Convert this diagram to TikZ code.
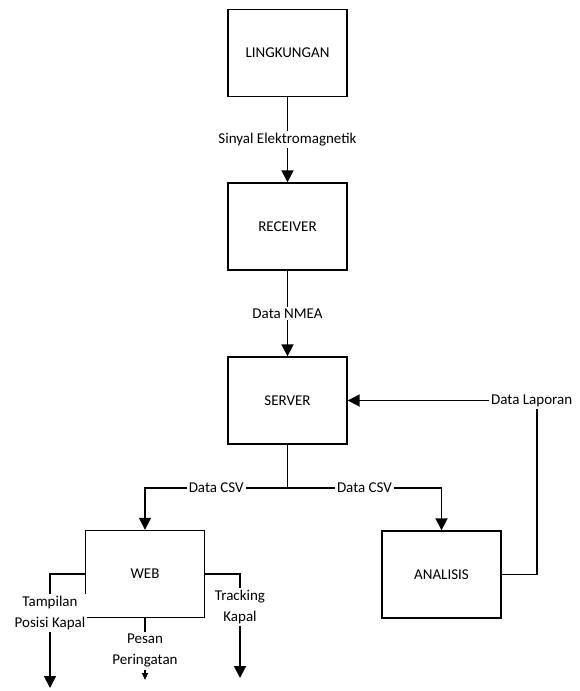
\documentclass[tikz,border=0pt]{standalone}
\usepackage{fontspec}
\setmainfont{Carlito}
\usetikzlibrary{arrows.meta,calc}

\begin{document}
\begin{tikzpicture}[x=1pt,y=-1pt,line width=1.8pt,
    >={Triangle[width=12pt,length=12pt]},
    every node/.style={font=\fontsize{15}{21}\selectfont},
    box/.style={draw,line width=1.4pt,minimum width=119pt,minimum height=87pt},
    lbl/.style={fill=white,inner sep=2pt,align=center}]
    \useasboundingbox (0,0) rectangle (579,691);
    % boxes
    \foreach \name/\x/\y/\txt in {%
        lingkungan/287.5/53/LINGKUNGAN,
        receiver/287.5/226.5/RECEIVER,
        server/287.5/400.5/SERVER,
        web/145/574/WEB,
        analisis/441.5/574.5/ANALISIS}
        \node[box] (\name) at (\x,\y) {\txt};
    % free ends
    \coordinate (split) at ($(server.south)+(0,43)$);
    \coordinate (tampilan) at (50,688);
    \coordinate (pesan) at (145,680);
    \coordinate (tracking) at (240,678);
    % main chain
    \draw[->] (lingkungan) -- node[lbl]{Sinyal Elektromagnetik} (receiver);
    \draw[->] (receiver) -- node[lbl]{Data NMEA} (server);
    \draw (server.south) -- (split);
    \draw[->] (split) -| node[lbl,pos=.25]{Data CSV} (web.north);
    \draw[->] (split) -| node[lbl,pos=.25]{Data CSV} (analisis.north);
    \draw[->] (analisis.east) -- ++(35,0) |- node[lbl,pos=.5,xshift=-5pt]{Data Laporan} (server.east);
    % web outputs
    \draw[->] (web.west) -| node[lbl,pos=.67]{Tampilan\\Posisi Kapal} (tampilan);
    \draw[-{Triangle[width=6pt,length=7pt]}] (web.south) -- node[lbl,pos=.53]{Pesan\\Peringatan} (pesan);
    \draw[->] (web.east) -| node[lbl,pos=.66]{Tracking\\Kapal} (tracking);
\end{tikzpicture}
\end{document}
